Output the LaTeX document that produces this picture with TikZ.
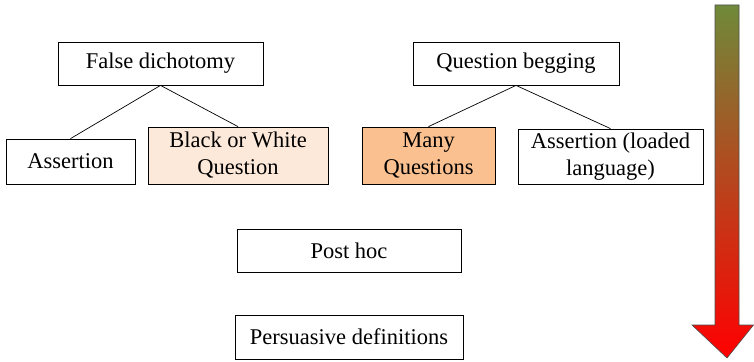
\documentclass[tikz,border=0pt]{standalone}
\usepackage{fontspec}
\setmainfont{Liberation Serif}
\usepackage{tikz}
\definecolor{paleorange}{HTML}{FDE9D9}
\definecolor{lightorange}{HTML}{FAC090}
\definecolor{olivetop}{HTML}{6F8A3A}
\tikzstyle{box} = [rectangle, draw=black, line width=0.8pt, text centered, align=center, inner sep=0pt, font=\fontsize{22.5}{27}\selectfont]
\tikzstyle{softbox} = [box, fill=paleorange]
\tikzstyle{warmbox} = [box, fill=lightorange]
\tikzstyle{link} = [line width=0.7pt]

\begin{document}
\begin{tikzpicture}[x=1pt, y=-1pt]
  \useasboundingbox (0,0) rectangle (754,361);

  \node (falsedich) [box, minimum width=205pt, minimum height=43pt] at (160.5,63.5) {False dichotomy};
  \node (assertion) [box, minimum width=129pt, minimum height=45pt] at (70.5,161.5) {Assertion};
  \node (blackwhite) [softbox, minimum width=180pt, minimum height=57pt] at (238,155.5) {Black or White\\Question};

  \node (qbegging) [box, minimum width=206pt, minimum height=43pt] at (516,63.5) {Question begging};
  \node (manyq) [warmbox, minimum width=133pt, minimum height=57pt] at (428.5,155.5) {Many\\Questions};
  \node (loaded) [box, minimum width=185pt, minimum height=55pt] at (610.5,156.5) {Assertion (loaded\\language)};

  \node (posthoc) [box, minimum width=224pt, minimum height=43pt] at (349,250.5) {Post hoc};
  \node (persuasive) [box, minimum width=228pt, minimum height=44pt] at (349,337) {Persuasive definitions};

  \draw [link] (falsedich.south) -- (assertion.north);
  \draw [link] (falsedich.south) -- (blackwhite.north);
  \draw [link] (qbegging.south) -- (manyq.north);
  \draw [link] (qbegging.south) -- (loaded.north);

  % severity arrow
  \shadedraw [top color=olivetop, bottom color=red, draw=black!70, line width=0.6pt]
    (715,5) -- (739,5) -- (739,325) -- (753.5,325) -- (727,358) -- (692,325) -- (715,325) -- cycle;
\end{tikzpicture}
\end{document}
